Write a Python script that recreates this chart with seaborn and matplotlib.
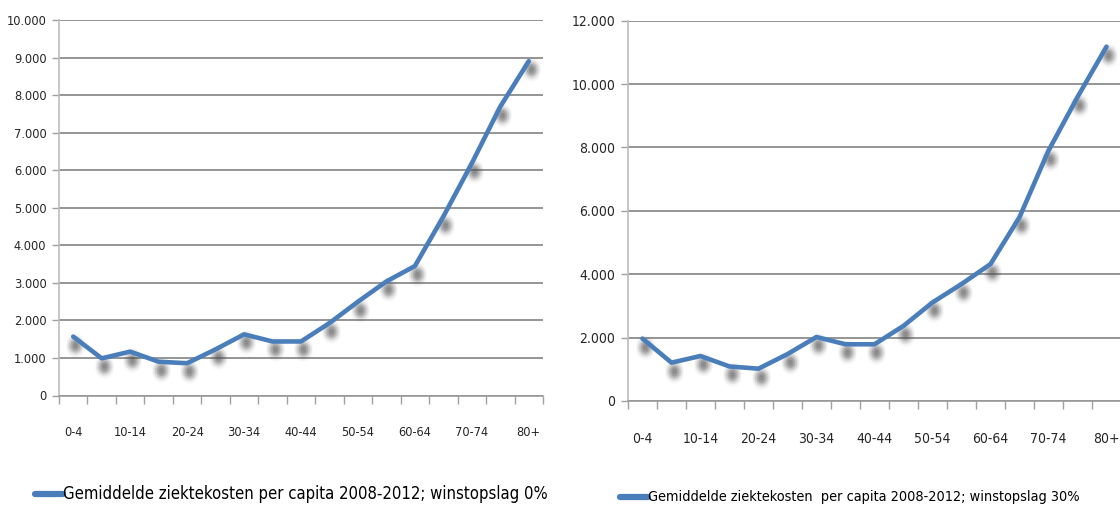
import matplotlib
matplotlib.use('Agg')
import matplotlib.pyplot as plt
import matplotlib.transforms as mtransforms
from matplotlib.ticker import FuncFormatter, MultipleLocator, FixedLocator
import seaborn as sns
import pandas as pd

# age groups
age_groups = ['0-4', '5-9', '10-14', '15-19', '20-24', '25-29', '30-34', '35-39',
              '40-44', '45-49', '50-54', '55-59', '60-64', '65-69', '70-74',
              '75-79', '80+']

# average illness costs per capita, profit markup 0% and 30%
costs_0 = [1570, 990, 1170, 900, 860, 1230, 1630, 1440, 1440, 1930, 2500,
           3040, 3450, 4770, 6190, 7700, 8910]
costs_30 = [1970, 1210, 1420, 1090, 1020, 1480, 2020, 1790, 1790, 2370, 3110,
            3690, 4320, 5800, 7900, 9590, 11180]

label_0 = 'Gemiddelde ziektekosten per capita 2008-2012; winstopslag 0%'
label_30 = 'Gemiddelde ziektekosten  per capita 2008-2012; winstopslag 30%'

sns.set_style('white')
plt.rcParams['font.family'] = ['DejaVu Sans']
plt.rcParams['font.stretch'] = 'condensed'

BLUE = '#4a7ebb'
GRID = '#8c8c8c'


def thousands(v, pos):
    return '{:,.0f}'.format(v).replace(',', '.')


def draw_panel(fig, rect, values, label, ymax, ystep, fs, legend_xy, legend_fs):
    ax = fig.add_axes(rect)
    df = pd.DataFrame({'pos': range(len(age_groups)), 'cost': values})

    # soft drop shadow under the vertices (Excel style)
    for dy in (-5, -8, -11):
        shadow = mtransforms.offset_copy(ax.transData, fig=fig, x=2, y=dy, units='dots')
        for ms, a in [(13, 0.05), (10, 0.08), (7, 0.12), (4, 0.15)]:
            ax.plot(df['pos'], df['cost'], 'o', ms=ms, color='#555555', alpha=a,
                    mec='none', transform=shadow, zorder=2)

    sns.lineplot(data=df, x='pos', y='cost', ax=ax, color=BLUE, lw=3.3,
                 solid_capstyle='round', solid_joinstyle='round', zorder=3)

    ax.set_xlim(-0.5, len(age_groups) - 0.5)
    ax.set_ylim(0, ymax)
    ax.yaxis.set_major_locator(MultipleLocator(ystep))
    ax.yaxis.set_major_formatter(FuncFormatter(thousands))
    ax.grid(axis='y', color=GRID, lw=1.3)
    ax.set_axisbelow(True)

    ax.xaxis.set_major_locator(FixedLocator(range(0, len(age_groups), 2)))
    ax.set_xticklabels(age_groups[::2])
    ax.xaxis.set_minor_locator(FixedLocator([i - 0.5 for i in range(len(age_groups) + 1)]))
    ax.tick_params(axis='x', which='major', length=0, pad=22, labelsize=fs)
    ax.tick_params(axis='x', which='minor', length=6, width=1, color='#a0a0a0',
                   direction='out', bottom=True)
    ax.tick_params(axis='y', length=5, width=1, color='#a0a0a0', direction='out',
                   left=True, pad=4, labelsize=fs)

    for s in ['top', 'right']:
        ax.spines[s].set_visible(False)
    ax.spines['left'].set_color('#bdbdbd')
    ax.spines['bottom'].set_color('#9a9a9a')
    ax.spines['left'].set_linewidth(1.2)
    ax.spines['bottom'].set_linewidth(1.2)
    ax.set_xlabel('')
    ax.set_ylabel('')

    # legend key and text
    fig.lines.append(plt.Line2D([legend_xy[0] - 0.025, legend_xy[0]], [legend_xy[1]] * 2,
                                transform=fig.transFigure, color=BLUE, lw=4.5,
                                solid_capstyle='round'))
    fig.text(legend_xy[0], legend_xy[1], label, fontsize=legend_fs, va='center',
             ha='left', color='black')
    return ax


fig = plt.figure(figsize=(11.2, 5.08), dpi=100)
W, H = 1120, 508

draw_panel(fig, [59 / W, 1 - 395.5 / H, 484 / W, 375.2 / H], costs_0, label_0,
           10000, 1000, 9.2, (63 / W, 1 - 494 / H), 12)
draw_panel(fig, [628 / W, 1 - 401 / H, 493 / W, 380.3 / H], costs_30, label_30,
           12000, 2000, 10, (648 / W, 1 - 497 / H), 10.4)

fig.savefig('out.png', dpi=100, facecolor='white')
